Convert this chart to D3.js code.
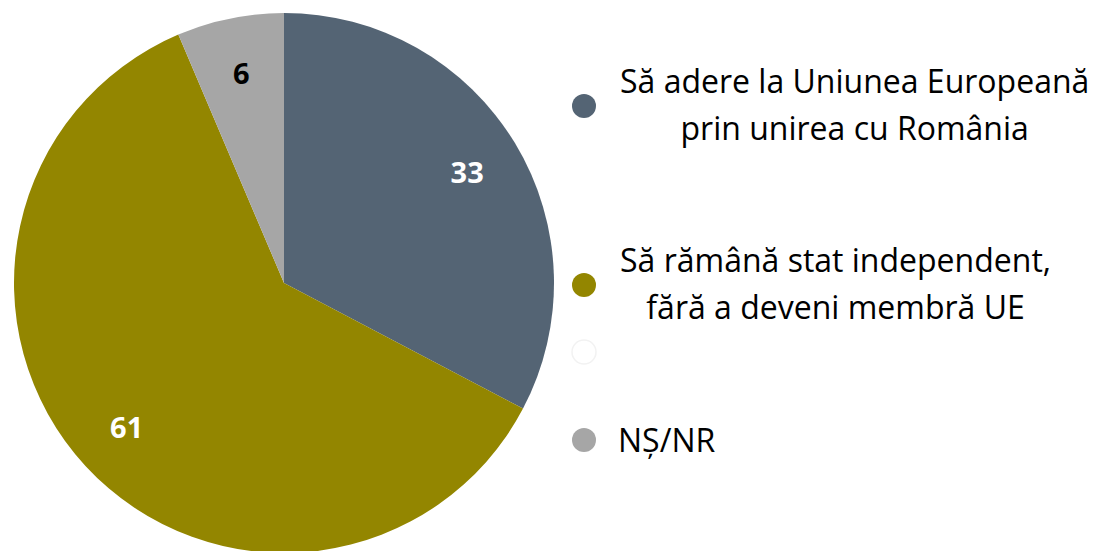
<!DOCTYPE html>
<html>
<head>
<meta charset="utf-8">
<script src="https://cdn.jsdelivr.net/npm/d3@7"></script>
<style>
  body { margin: 0; background: #fff; }
  svg { display: block; font-family: "Open Sans", Lato, sans-serif; }
</style>
</head>
<body>
<div class="chart-container"></div>
<script>
// data
var categories = ['Să adere la Uniunea Europeană|prin unirea cu România', 'Să rămână stat independent,|fără a deveni membră UE', '', 'NȘ/NR'];
var values = [32.7, 60.9, null, 6.4];
var colors = ['#546474', '#938600', '#ffffff', '#a6a6a6'];
var labelColors = ['#ffffff', '#ffffff', null, '#000000'];

var width = 1103, height = 551;
var cx = 284, cy = 283, radius = 270;

var svg = d3.select('.chart-container').append('svg')
    .attr('width', width)
    .attr('height', height);

var slices = values.map(function (v, i) { return {v: v, i: i}; })
  .filter(function (d) { return d.v != null; });

var pie = d3.pie().sort(null).value(function (d) { return d.v; });
var arc = d3.arc().innerRadius(0).outerRadius(radius);
var labelArc = d3.arc().innerRadius(214).outerRadius(214);

var g = svg.append('g').attr('transform', 'translate(' + cx + ',' + cy + ')');

var arcs = pie(slices);

g.selectAll('.slice').data(arcs).enter().append('path')
    .attr('class', 'slice')
    .attr('d', arc)
    .style('fill', function (d) { return colors[d.data.i]; });

g.selectAll('.lbl').data(arcs).enter().append('text')
    .attr('class', 'lbl')
    .attr('transform', function (d) { return 'translate(' + labelArc.centroid(d) + ')'; })
    .attr('text-anchor', 'middle')
    .attr('dy', '0.36em')
    .style('font-size', '29px')
    .style('font-weight', 'bold')
    .style('fill', function (d) { return labelColors[d.data.i]; })
    .text(function (d) { return Math.round(d.data.v); });

// legend
var legendRows = [106, 285, 352, 440];
var legend = svg.selectAll('.legend').data(categories).enter().append('g')
    .attr('class', 'legend')
    .attr('transform', function (d, i) { return 'translate(584,' + legendRows[i] + ')'; });

legend.append('circle')
    .attr('r', 12)
    .style('fill', function (d, i) { return colors[i]; })
    .style('stroke', function (d, i) { return values[i] == null ? '#f2f2f2' : 'none'; })
    .style('stroke-width', 1.5);

legend.each(function (d) {
  if (!d) return;
  var lines = d.split('|');
  var t = d3.select(this).append('text')
      .style('font-size', '32px')
      .style('fill', '#000');
  if (lines.length === 1) {
    t.attr('x', 34).attr('y', 12).text(lines[0]);
  } else {
    var spans = lines.map(function (l, k) {
      return t.append('tspan').attr('y', -13 + k * 47).text(l);
    });
    var w = d3.max(spans, function (s) { return s.node().getComputedTextLength(); });
    t.attr('text-anchor', 'middle');
    spans.forEach(function (s) { s.attr('x', 36 + w / 2); });
  }
});
</script>
</body>
</html>
